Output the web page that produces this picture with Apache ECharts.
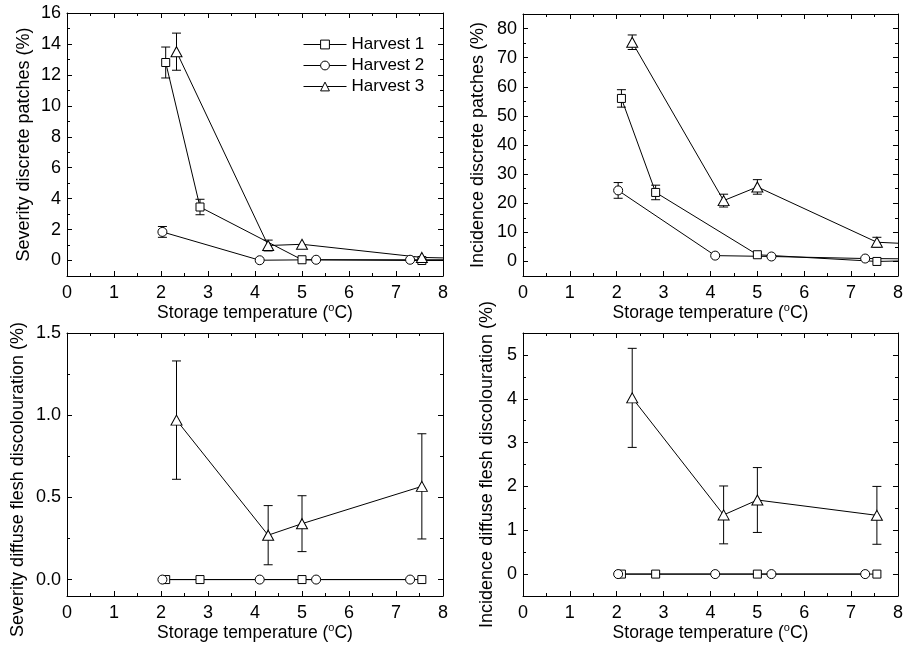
<!DOCTYPE html>
<html>
<head>
<meta charset="utf-8">
<script src="https://cdn.jsdelivr.net/npm/echarts@6/dist/echarts.min.js"></script>
<style>
html, body { margin: 0; padding: 0; background: #fff; }
#chart { width: 906px; height: 645px; }
</style>
</head>
<body>
<div id="chart"></div>
<script>
// storage temperatures (oC) of each harvest
const tempH1 = [2.1, 2.83, 5.0, 7.55];
const tempH2 = [2.03, 4.1, 5.3, 7.3];
const tempH3 = [2.33, 4.28, 5.0, 7.55];
// top panels: the lines run on past the right edge
const tempBeyond = 9;

const names = ['Harvest 1', 'Harvest 2', 'Harvest 3'];

// severity discrete patches (%)
const sevPatchH1 = [12.8, 3.46, 0.05, 0.0, 0.0];
const sevPatchH2 = [1.85, 0.02, 0.05, 0.05, 0.05];
const sevPatchH3 = [13.5, 0.97, 1.05, 0.2, 0.1];
const sevPatchErrH1 = [1.0, 0.5, null, null];
const sevPatchErrH2 = [0.35, null, null, null];
const sevPatchErrH3 = [1.2, 0.35, null, null];

// incidence discrete patches (%)
const incPatchH1 = [56, 23.7, 2.3, 0.0, 0.5];
const incPatchH2 = [24.4, 2.0, 1.7, 1.0, 0.8];
const incPatchH3 = [75.3, 20.9, 25.6, 6.6, 5.5];
const incPatchErrH1 = [3, 2.5, null, null];
const incPatchErrH2 = [2.7, null, null, null];
const incPatchErrH3 = [2.5, 2.2, 2.5, 1.7];

// severity diffuse flesh discolouration (%)
const sevDiffH1 = [0, 0, 0, 0];
const sevDiffH2 = [0, 0, 0, 0];
const sevDiffH3 = [0.97, 0.27, 0.34, 0.567];
const sevDiffErrH3 = [0.36, 0.18, 0.17, 0.32];

// incidence diffuse flesh discolouration (%)
const incDiffH1 = [0, 0, 0, 0];
const incDiffH2 = [0, 0, 0, 0];
const incDiffH3 = [4.02, 1.35, 1.69, 1.34];
const incDiffErrH3 = [1.13, 0.66, 0.74, 0.66];

// y tick values
const sevPatchTicks = [0, 2, 4, 6, 8, 10, 12, 14, 16];
const sevPatchMinor = [1, 3, 5, 7, 9, 11, 13, 15];
const incPatchTicks = [0, 10, 20, 30, 40, 50, 60, 70, 80];
const incPatchMinor = [5, 15, 25, 35, 45, 55, 65, 75];
const sevDiffTicks = [0, 0.5, 1.0, 1.5];
const sevDiffMinor = [0.25, 0.75, 1.25];
const incDiffTicks = [0, 1, 2, 3, 4, 5];
const incDiffMinor = [0.5, 1.5, 2.5, 3.5, 4.5];

const FONT = 'Liberation Sans, Arial, sans-serif';
const symbols = ['rect', 'circle', 'triangle'];
const symbolSizes = [8, 9, [11, 10]];

function points(temps, vals) {
    return vals.map((v, i) => [i < temps.length ? temps[i] : tempBeyond, v]);
}

function errPoints(temps, vals, errs) {
    const out = [];
    (errs || []).forEach((e, i) => {
        if (e != null) out.push([temps[i], vals[i] - e, vals[i] + e]);
    });
    return out;
}

function renderErr(params, api) {
    const x = api.value(0);
    const top = api.coord([x, api.value(2)]);
    const bot = api.coord([x, api.value(1)]);
    const cap = 4.5;
    const st = { stroke: '#000', lineWidth: 1 };
    return {
        type: 'group',
        children: [
            { type: 'line', shape: { x1: top[0], y1: top[1], x2: bot[0], y2: bot[1] }, style: st },
            { type: 'line', shape: { x1: top[0] - cap, y1: top[1], x2: top[0] + cap, y2: top[1] }, style: st },
            { type: 'line', shape: { x1: bot[0] - cap, y1: bot[1], x2: bot[0] + cap, y2: bot[1] }, style: st }
        ]
    };
}

const panels = [
    {
        grid: { left: 67, top: 13, width: 376, height: 263 },
        min: -1, max: 16, ticks: sevPatchTicks, minor: sevPatchMinor,
        fmt: v => String(v),
        yName: 'Severity discrete patches (%)', yGap: 34, yPad: 0, xGap: 26,
        lines: [[tempH1, sevPatchH1, sevPatchErrH1], [tempH2, sevPatchH2, sevPatchErrH2], [tempH3, sevPatchH3, sevPatchErrH3]]
    },
    {
        grid: { left: 523, top: 14, width: 376, height: 262 },
        min: -5, max: 85, ticks: incPatchTicks, minor: incPatchMinor,
        fmt: v => String(v),
        yName: 'Incidence discrete patches (%)', yGap: 36, yPad: 0, xGap: 19,
        lines: [[tempH1, incPatchH1, incPatchErrH1], [tempH2, incPatchH2, incPatchErrH2], [tempH3, incPatchH3, incPatchErrH3]]
    },
    {
        grid: { left: 67, top: 333, width: 376, height: 263 },
        min: -0.1, max: 1.5, ticks: sevDiffTicks, minor: sevDiffMinor,
        fmt: v => v.toFixed(1),
        yName: 'Severity diffuse flesh discolouration (%)', yGap: 40, yPad: 30, xGap: 26,
        lines: [[tempH1, sevDiffH1, null], [tempH2, sevDiffH2, null], [tempH3, sevDiffH3, sevDiffErrH3]]
    },
    {
        grid: { left: 523, top: 333, width: 376, height: 263 },
        min: -0.5, max: 5.5, ticks: incDiffTicks, minor: incDiffMinor,
        fmt: v => String(v),
        yName: 'Incidence diffuse flesh discolouration (%)', yGap: 27, yPad: 0, xGap: 19,
        lines: [[tempH1, incDiffH1, null], [tempH2, incDiffH2, null], [tempH3, incDiffH3, incDiffErrH3]]
    }
];

const axisLine = { show: true, onZero: false, lineStyle: { color: '#000', width: 1 } };
const noLine = { show: false, onZero: false };

const grids = [], xAxes = [], yAxes = [], series = [];

panels.forEach((p, i) => {
    grids.push(p.grid);

    // bottom and top x axes
    ['bottom', 'top'].forEach(pos => {
        xAxes.push({
            type: 'value', gridIndex: i, position: pos,
            min: 0, max: 8, interval: 1,
            axisLine: axisLine,
            axisTick: { show: true, inside: true, length: 5, lineStyle: { color: '#000' } },
            minorTick: { show: true, splitNumber: 2, length: 3, lineStyle: { color: '#000' } },
            splitLine: { show: false },
            axisLabel: {
                show: pos === 'bottom', fontSize: 18, color: '#000', margin: 8,
                fontFamily: FONT, showMinLabel: true, showMaxLabel: true
            },
            name: pos === 'bottom' ? '{t|Storage temperature (}{s|o}{t|C)}' : '',
            nameLocation: 'middle',
            nameGap: p.xGap,
            nameTextStyle: {
                rich: {
                    t: { fontSize: 17.5, color: '#000', fontFamily: FONT, lineHeight: 20 },
                    s: { fontSize: 11, color: '#000', fontFamily: FONT, lineHeight: 12, verticalAlign: 'top' }
                }
            }
        });
    });

    // left / right y axes, major and minor ticks
    ['left', 'right'].forEach(pos => {
        yAxes.push({
            type: 'value', gridIndex: i, position: pos,
            min: p.min, max: p.max,
            axisLine: axisLine,
            axisTick: { show: true, inside: true, length: 5, customValues: p.ticks, lineStyle: { color: '#000' } },
            splitLine: { show: false },
            axisLabel: {
                show: pos === 'left', customValues: p.ticks, formatter: p.fmt,
                fontSize: 18, color: '#000', margin: 6, fontFamily: FONT
            },
            name: pos === 'left' ? p.yName : '',
            nameLocation: 'middle',
            nameGap: p.yGap,
            nameTextStyle: { fontSize: 18, color: '#000', fontFamily: FONT, padding: [0, p.yPad, 0, 0] }
        });
        yAxes.push({
            type: 'value', gridIndex: i, position: pos,
            min: p.min, max: p.max,
            axisLine: noLine,
            axisTick: { show: true, inside: true, length: 3, customValues: p.minor, lineStyle: { color: '#000' } },
            splitLine: { show: false },
            axisLabel: { show: false }
        });
    });

    p.lines.forEach((ln, k) => {
        const errData = errPoints(ln[0], ln[1], ln[2]);
        if (errData.length) {
            series.push({
                type: 'custom',
                xAxisIndex: 2 * i, yAxisIndex: 4 * i,
                data: errData,
                renderItem: renderErr,
                clip: true,
                silent: true,
                z: 2
            });
        }
        series.push({
            type: 'line',
            name: names[k],
            xAxisIndex: 2 * i, yAxisIndex: 4 * i,
            data: points(ln[0], ln[1]),
            symbol: symbols[k],
            symbolSize: symbolSizes[k],
            showAllSymbol: true,
            clip: true,
            itemStyle: { color: '#fff', borderColor: '#000', borderWidth: 1 },
            lineStyle: { color: '#000', width: 1 },
            emphasis: { disabled: true },
            z: 3
        });
    });
});

const chart = echarts.init(document.getElementById('chart'));
chart.setOption({
    animation: false,
    backgroundColor: '#fff',
    textStyle: { fontFamily: FONT },
    legend: {
        data: names,
        orient: 'vertical',
        left: 298,
        top: 31,
        itemWidth: 43,
        itemHeight: 11,
        itemGap: 4,
        selectedMode: false,
        lineStyle: { width: 1, color: '#000' },
        itemStyle: { color: '#fff', borderColor: '#000', borderWidth: 1 },
        textStyle: { fontSize: 17, color: '#000', fontFamily: FONT }
    },
    grid: grids,
    xAxis: xAxes,
    yAxis: yAxes,
    series: series
});

window.addEventListener('resize', function() {
    chart.resize();
});
</script>
</body>
</html>
